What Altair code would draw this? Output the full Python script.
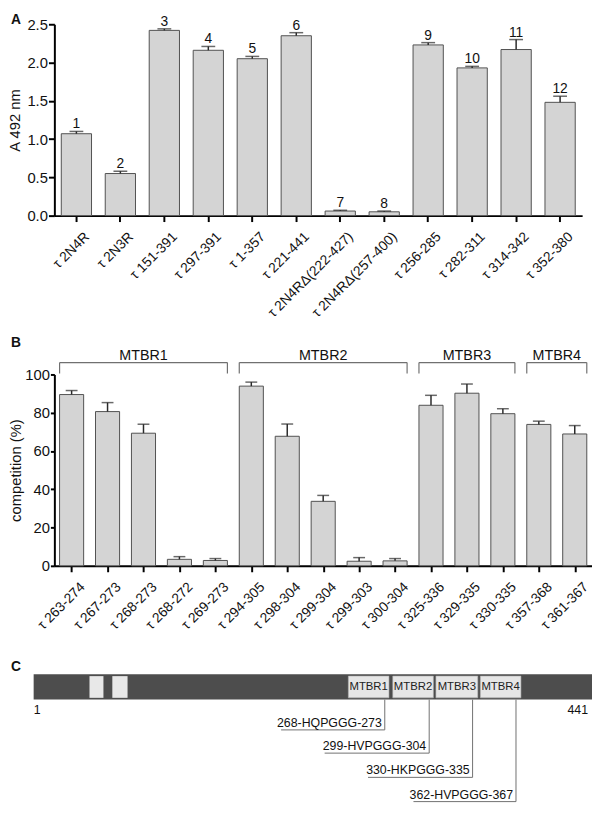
import json
import altair as alt
import pandas as pd

FONT = "Liberation Sans"

# ---------------- Panel A data ----------------
a_labels = ["τ 2N4R", "τ 2N3R", "τ 151-391", "τ 297-391", "τ 1-357", "τ 221-441",
            "τ 2N4RΔ(222-427)", "τ 2N4RΔ(257-400)", "τ 256-285", "τ 282-311",
            "τ 314-342", "τ 352-380"]
a_values = [1.07, 0.55, 2.42, 2.16, 2.05, 2.35, 0.06, 0.05, 2.23, 1.93, 2.17, 1.48]
a_errors = [0.03, 0.03, 0.02, 0.05, 0.03, 0.04, 0.01, 0.01, 0.03, 0.02, 0.13, 0.08]
a_numbers = ["1", "2", "3", "4", "5", "6", "7", "8", "9", "10", "11", "12"]
a_ticks = [0.0, 0.5, 1.0, 1.5, 2.0, 2.5]

# ---------------- Panel B data ----------------
b_labels = ["τ 263-274", "τ 267-273", "τ 268-273", "τ 268-272", "τ 269-273",
            "τ 294-305", "τ 298-304", "τ 299-304", "τ 299-303", "τ 300-304",
            "τ 325-336", "τ 329-335", "τ 330-335", "τ 357-368", "τ 361-367"]
b_values = [89.5, 80.6, 69.3, 3.4, 2.8, 93.9, 67.7, 33.7, 2.4, 2.6, 83.9, 90.2, 79.5, 73.9, 68.9]
b_errors = [2.1, 4.7, 4.7, 1.4, 1.0, 2.1, 6.4, 3.1, 1.9, 1.2, 5.2, 4.8, 2.6, 1.7, 4.4]
b_ticks = [0, 20, 40, 60, 80, 100]
b_groups = ["MTBR1", "MTBR2", "MTBR3", "MTBR4"]
b_group_first = ["τ 263-274", "τ 294-305", "τ 325-336", "τ 357-368"]
b_group_last = ["τ 269-273", "τ 300-304", "τ 330-335", "τ 361-367"]

# ---------------- Panel C data ----------------
c_length = [1, 441]
c_length_text = ["1", "441"]
c_insert_start = [45, 63]
c_insert_end = [56, 75]
c_repeats = ["MTBR1", "MTBR2", "MTBR3", "MTBR4"]
c_repeat_start = [249, 284, 318, 353]
c_repeat_end = [281, 316, 351, 385]
c_motifs = ["268-HQPGGG-273", "299-HVPGGG-304", "330-HKPGGG-335", "362-HVPGGG-367"]
c_motif_pos = [277.7, 312.7, 346.9, 381.1]
c_motif_left = [196.0, 230.3, 264.5, 300.3]
c_motif_row = [2.2, 3.12, 4.08, 5.04]

BAR_FILL = "#d4d4d4"
BAR_STROKE = "#505050"
ERR = "#2a2a2a"
TXT = "#111"

# ================= Panel A =================
dfA = pd.DataFrame({"label": a_labels, "value": a_values, "err": a_errors, "num": a_numbers})
baseA = alt.Chart(dfA).transform_calculate(top="datum.value + datum.err")
TA = "A 492 nm"
axA_x = alt.Axis(labelAngle=-45, labelFontSize=14, labelPadding=8, labelOffset=6,
                 labelOverlap=False)
axA_y = alt.Axis(values=a_ticks, format=".1f", titlePadding=4, labelPadding=1,
                 labelOverlap=False)
xAs = alt.Scale(domain=a_labels, paddingInner=0.312, paddingOuter=0.157)
yAs = alt.Scale(domain=[0, 2.5], nice=False)


def xa():
    return alt.X("label:N", title=None, scale=xAs, axis=axA_x)


def ya(field):
    return alt.Y(field, title=TA, scale=yAs, axis=axA_y)


barsA = baseA.mark_bar(fill=BAR_FILL, stroke=BAR_STROKE, strokeWidth=1).encode(
    x=xa(), y=ya("value:Q"))
errA = baseA.mark_rule(color=ERR, strokeWidth=1.5).encode(
    x=xa(), y=ya("value:Q"), y2="top:Q")
capA = baseA.mark_tick(color=ERR, size=14, thickness=1.5, orient="horizontal").encode(
    x=xa(), y=ya("top:Q"))
numA = baseA.mark_text(baseline="alphabetic", dy=-3, fontSize=14, color=TXT).encode(
    x=xa(), y=ya("top:Q"), text="num:N")
letterA = alt.Chart(pd.DataFrame({"t": ["A"]})).mark_text(
    align="left", baseline="middle", fontSize=14, fontWeight="bold", color=TXT).encode(
    x=alt.value(-44), y=alt.value(-4), text="t:N")
panelA = alt.layer(barsA, errA, capA, numA, letterA).properties(width=535, height=194)

# ================= Panel B =================
HALF = 0.335  # half bar width in category units
b_index = list(range(1, len(b_labels) + 1))
dfB = pd.DataFrame({"idx": b_index, "label": b_labels, "value": b_values, "err": b_errors})
baseB = alt.Chart(dfB).transform_calculate(
    top="datum.value + datum.err", lo=f"datum.idx - {HALF}", hi=f"datum.idx + {HALF}",
    base="0")
TB = "competition (%)"
label_expr = json.dumps(b_labels, ensure_ascii=False) + "[datum.value - 1]"
xBs = alt.Scale(domain=[0.52, len(b_labels) + 0.48], nice=False, zero=False)
yBs = alt.Scale(domain=[0, 100], nice=False)
axB_x = alt.Axis(values=b_index, labelExpr=label_expr, labelAngle=-45, labelFontSize=14,
                 labelPadding=8, labelOffset=6, labelOverlap=False, labelFlush=False,
                 labelBound=False)
axB_y = alt.Axis(values=b_ticks, titlePadding=1, labelPadding=1, tickSize=4,
                 labelOverlap=False)


def xb(field):
    return alt.X(field, title=None, scale=xBs, axis=axB_x)


def yb(field):
    return alt.Y(field, title=TB, scale=yBs, axis=axB_y)


barsB = baseB.mark_rect(fill=BAR_FILL, stroke=BAR_STROKE, strokeWidth=1).encode(
    x=xb("lo:Q"), x2="hi:Q", y=yb("value:Q"), y2="base:Q")
errB = baseB.mark_rule(color=ERR, strokeWidth=1.5).encode(
    x=xb("idx:Q"), y=yb("value:Q"), y2="top:Q")
capB = baseB.mark_tick(color=ERR, size=12, thickness=1.5, orient="horizontal").encode(
    x=xb("idx:Q"), y=yb("top:Q"))

dfG = pd.DataFrame({"group": b_groups,
                    "first": [b_labels.index(v) + 1 for v in b_group_first],
                    "last": [b_labels.index(v) + 1 for v in b_group_last]})
gBase = alt.Chart(dfG).transform_calculate(
    lo=f"datum.first - {HALF}", hi=f"datum.last + {HALF}",
    mid="(datum.first + datum.last) / 2", btop="106.2", bleg="100.5")
BR = "#707070"
brTop = gBase.mark_rule(color=BR, strokeWidth=1.2).encode(
    x=xb("lo:Q"), x2="hi:Q", y=yb("btop:Q"))
brLeft = gBase.mark_rule(color=BR, strokeWidth=1.2).encode(
    x=xb("lo:Q"), y=yb("btop:Q"), y2="bleg:Q")
brRight = gBase.mark_rule(color=BR, strokeWidth=1.2).encode(
    x=xb("hi:Q"), y=yb("btop:Q"), y2="bleg:Q")
brText = gBase.mark_text(baseline="alphabetic", dy=-3, fontSize=14.5, color=TXT).encode(
    x=xb("mid:Q"), y=yb("btop:Q"), text="group:N")
letterB = alt.Chart(pd.DataFrame({"t": ["B"]})).mark_text(
    align="left", baseline="middle", fontSize=14, fontWeight="bold", color=TXT).encode(
    x=alt.value(-44), y=alt.value(-32), text="t:N")
panelB = alt.layer(barsB, errB, capB, brTop, brLeft, brRight, brText,
                   letterB).properties(width=545, height=194)

# ================= Panel C =================
xCs = alt.Scale(domain=c_length, range=[-21, 545], nice=False, zero=False)
yCs = alt.Scale(domain=[0, 5.04], range=[-51, 78], nice=False, zero=False)


def xc(field):
    return alt.X(field, scale=xCs, axis=None)


def yc(field):
    return alt.Y(field, scale=yCs, axis=None)


dfBar = pd.DataFrame({"start": [c_length[0]], "end": [c_length[1]]})
barC = alt.Chart(dfBar).transform_calculate(y0="0", y1="1").mark_rect(fill="#4d4d4d").encode(
    x=xc("start:Q"), x2="end:Q", y=yc("y0:Q"), y2="y1:Q")
dfIns = pd.DataFrame({"start": c_insert_start, "end": c_insert_end})
insC = alt.Chart(dfIns).transform_calculate(y0="0.07", y1="0.93").mark_rect(
    fill="#e8e8e8").encode(x=xc("start:Q"), x2="end:Q", y=yc("y0:Q"), y2="y1:Q")
dfRep = pd.DataFrame({"name": c_repeats, "start": c_repeat_start, "end": c_repeat_end})
repC = alt.Chart(dfRep).transform_calculate(y0="0.07", y1="0.93").mark_rect(
    fill="#e6e6e6", stroke="#b0b0b0", strokeWidth=0.6).encode(
    x=xc("start:Q"), x2="end:Q", y=yc("y0:Q"), y2="y1:Q")
repText = alt.Chart(dfRep).transform_calculate(
    mid="(datum.start + datum.end) / 2", ym="0.52").mark_text(
    fontSize=11.5, color="#222", baseline="middle").encode(
    x=xc("mid:Q"), y=yc("ym:Q"), text="name:N")
dfMot = pd.DataFrame({"motif": c_motifs, "pos": c_motif_pos, "left": c_motif_left,
                      "row": c_motif_row})
LC = "#707070"
motBase = alt.Chart(dfMot).transform_calculate(y1="1")
vLines = motBase.mark_rule(color=LC, strokeWidth=1).encode(
    x=xc("pos:Q"), y=yc("y1:Q"), y2="row:Q")
hLines = motBase.mark_rule(color=LC, strokeWidth=1).encode(
    x=xc("left:Q"), x2="pos:Q", y=yc("row:Q"))
motText = motBase.mark_text(align="right", baseline="alphabetic", dx=-3, dy=-3,
                            fontSize=12.5, color=TXT).encode(
    x=xc("pos:Q"), y=yc("row:Q"), text="motif:N")
dfEnds = pd.DataFrame({"pos": c_length, "txt": c_length_text})
endsBase = alt.Chart(dfEnds).transform_calculate(ye="1.42")
endL = endsBase.transform_filter(alt.datum.txt == "1").mark_text(
    align="left", baseline="middle", fontSize=12.5, color=TXT).encode(
    x=xc("pos:Q"), y=yc("ye:Q"), text="txt:N")
endR = endsBase.transform_filter(alt.datum.txt == "441").mark_text(
    align="right", baseline="middle", dx=-4, fontSize=12.5, color=TXT).encode(
    x=xc("pos:Q"), y=yc("ye:Q"), text="txt:N")
letterC = alt.Chart(pd.DataFrame({"t": ["C"]})).mark_text(
    align="left", baseline="middle", fontSize=14, fontWeight="bold", color=TXT).encode(
    x=alt.value(-44), y=alt.value(-58), text="t:N")
panelC = alt.layer(barC, insC, repC, repText, vLines, hLines, motText, endL, endR,
                   letterC).properties(width=545, height=78)

chart = alt.vconcat(panelA, panelB, panelC, spacing=161, bounds="flush").properties(
    padding=0
).configure_view(stroke=None).configure_axis(
    labelFont=FONT, titleFont=FONT, labelFontSize=15, titleFontSize=15,
    titleFontWeight="normal", labelColor=TXT, titleColor=TXT,
    domainColor="#000", domainWidth=2, tickColor="#000", tickWidth=2, tickSize=6,
    grid=False, labelOverlap=False
).configure_text(font=FONT)

chart.save("out.html", embed_options={"renderer": "svg", "actions": False})
